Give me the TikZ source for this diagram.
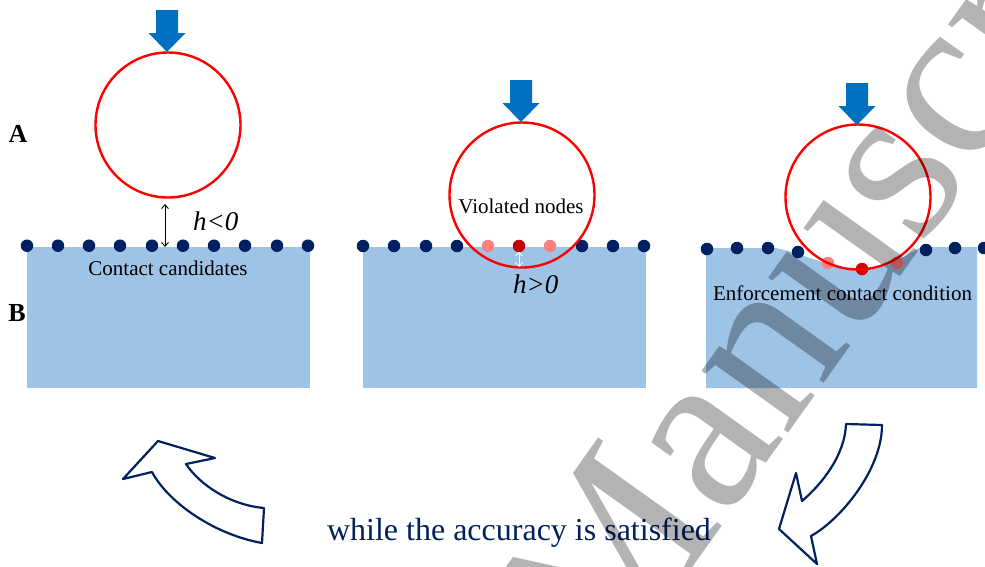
\documentclass[tikz,border=0pt]{standalone}
\usepackage{fontspec}
\setmainfont{Liberation Serif}
\usetikzlibrary{arrows.meta}
\definecolor{navy}{RGB}{0,32,96}
\definecolor{boxblue}{RGB}{157,195,230}
\definecolor{arrblue}{RGB}{0,112,192}
\definecolor{pinkdot}{RGB}{255,128,128}
\definecolor{darkdot}{RGB}{192,0,0}
\definecolor{wmgray}{RGB}{179,179,179}
\tikzset{
  ndot/.style={circle,fill=navy,inner sep=0pt,minimum size=12.5pt},
  pdot/.style={ndot,fill=pinkdot},
  rdot/.style={ndot,fill=darkdot},
  ball/.style={circle,draw=red,line width=2.4pt,inner sep=0pt,minimum size=145pt},
  slab/.style={fill=boxblue},
  lbl/.style={inner sep=0pt,font=\fontsize{21}{25}\selectfont},
  hlbl/.style={inner sep=0pt,font=\fontsize{27}{30}\selectfont\itshape},
  panel/.style={inner sep=0pt,font=\fontsize{26}{30}\selectfont\bfseries},
  gaparrow/.style={{Straight Barb[length=4pt,width=7pt]}-{Straight Barb[length=4pt,width=7pt]},line width=0.9pt},
  blockarrow/.style={draw=navy,fill=white,line width=2.2pt,line join=round},
  pics/loadarrow/.style={code={
    \fill[arrblue] (-11,-42) -- (11,-42) -- (11,-19) -- (18.5,-19) -- (0,0) -- (-18.5,-19) -- (-11,-19) -- cycle;}}
}
\begin{document}
\begin{tikzpicture}[x=1pt,y=-1pt]
\useasboundingbox (0,0) rectangle (985,566);

% ---------- panel 1 ----------
\fill[slab] (27,247) rectangle (310,388);
\foreach \i/\x in {1/27,2/58,3/89,4/120,5/152,6/183,7/214,8/245,9/277,10/308}
  \node[ndot] (a\i) at (\x,245.7) {};
\node[ball] (c1) at (168,125) {};
\pic at (167,52) {loadarrow};
\coordinate (g1t) at (165,204);
\coordinate (g1b) at (165,247);
\draw[gaparrow] (g1t) -- (g1b);
\node[hlbl,anchor=base west] (h1) at (193,230) {h<0};
\node[lbl,anchor=base] (cc) at (168,275) {Contact candidates};

% ---------- panel 2 ----------
\fill[slab] (363,247) rectangle (646,388);
\foreach \i/\x in {1/363,2/394,3/426,4/457,8/582,9/613,10/644}
  \node[ndot] (b\i) at (\x,246) {};
\node[pdot] (b5) at (488,246) {};
\node[rdot] (b6) at (519,246) {};
\node[pdot] (b7) at (550,246) {};
\node[ball] (c2) at (522,195) {};
\pic at (521,122) {loadarrow};
\coordinate (g2t) at (519,251.5);
\coordinate (g2b) at (519,267);
\draw[gaparrow,white,line width=0.8pt] (g2t) -- (g2b);
\node[hlbl,anchor=base west] (h2) at (513,293) {h>0};
\node[lbl,anchor=base] (vn) at (521,213) {Violated nodes};

% ---------- panel 3 ----------
\fill[slab] (706,248) -- (776,248) .. controls (805,254) and (835,270) .. (862,270)
  .. controls (890,270) and (908,252) .. (922,247) -- (977,247) -- (977,388) -- (706,388) -- cycle;
\foreach \i/\x/\y in {1/707/249,2/737/248,3/768/248,4/798/252,8/926/250,9/955/248,10/984/248}
  \node[ndot] (e\i) at (\x,\y) {};
\node[pdot] (e5) at (828,263) {};
\node[rdot,fill=red!85!black] (e6) at (862,269) {};
\node[pdot] (e7) at (897,263) {};
\node[ball] (c3) at (858,197) {};
\pic at (857,125) {loadarrow};
\node[lbl,anchor=base] (ec) at (842.5,300) {Enforcement contact condition};

% ---------- labels ----------
\node[panel,anchor=base] (pA) at (18,142) {A};
\node[panel,anchor=base] (pB) at (17,321) {B};

% ---------- loop arrows ----------
\draw[blockarrow] (123,479) -- (158,441) -- (215,458) -- (186,464)
  .. controls (200,485) and (230,505) .. (264,508) -- (262,543)
  .. controls (217,535) and (170,505) .. (152,472) -- cycle;
\draw[blockarrow] (846,424) -- (882,425)
  .. controls (882,470) and (840,520) .. (811,536) -- (817,564) -- (779,529) -- (796,473) -- (802,501)
  .. controls (822,484) and (845,455) .. cycle;
\node[inner sep=0pt,anchor=base,text=navy,font=\fontsize{32}{36}\selectfont] (loop) at (519,540) {while the accuracy is satisfied};

% ---------- watermark ----------
\begin{scope}
\clip (0,0) rectangle (985,566);
\begin{scope}[blend mode=multiply]
\node[anchor=base west,rotate=54.5,text=wmgray,inner sep=0pt,font=\fontsize{232}{232}\selectfont] (wm) at (606,689) {Manuscript};
\end{scope}
\end{scope}
\end{tikzpicture}
\end{document}
